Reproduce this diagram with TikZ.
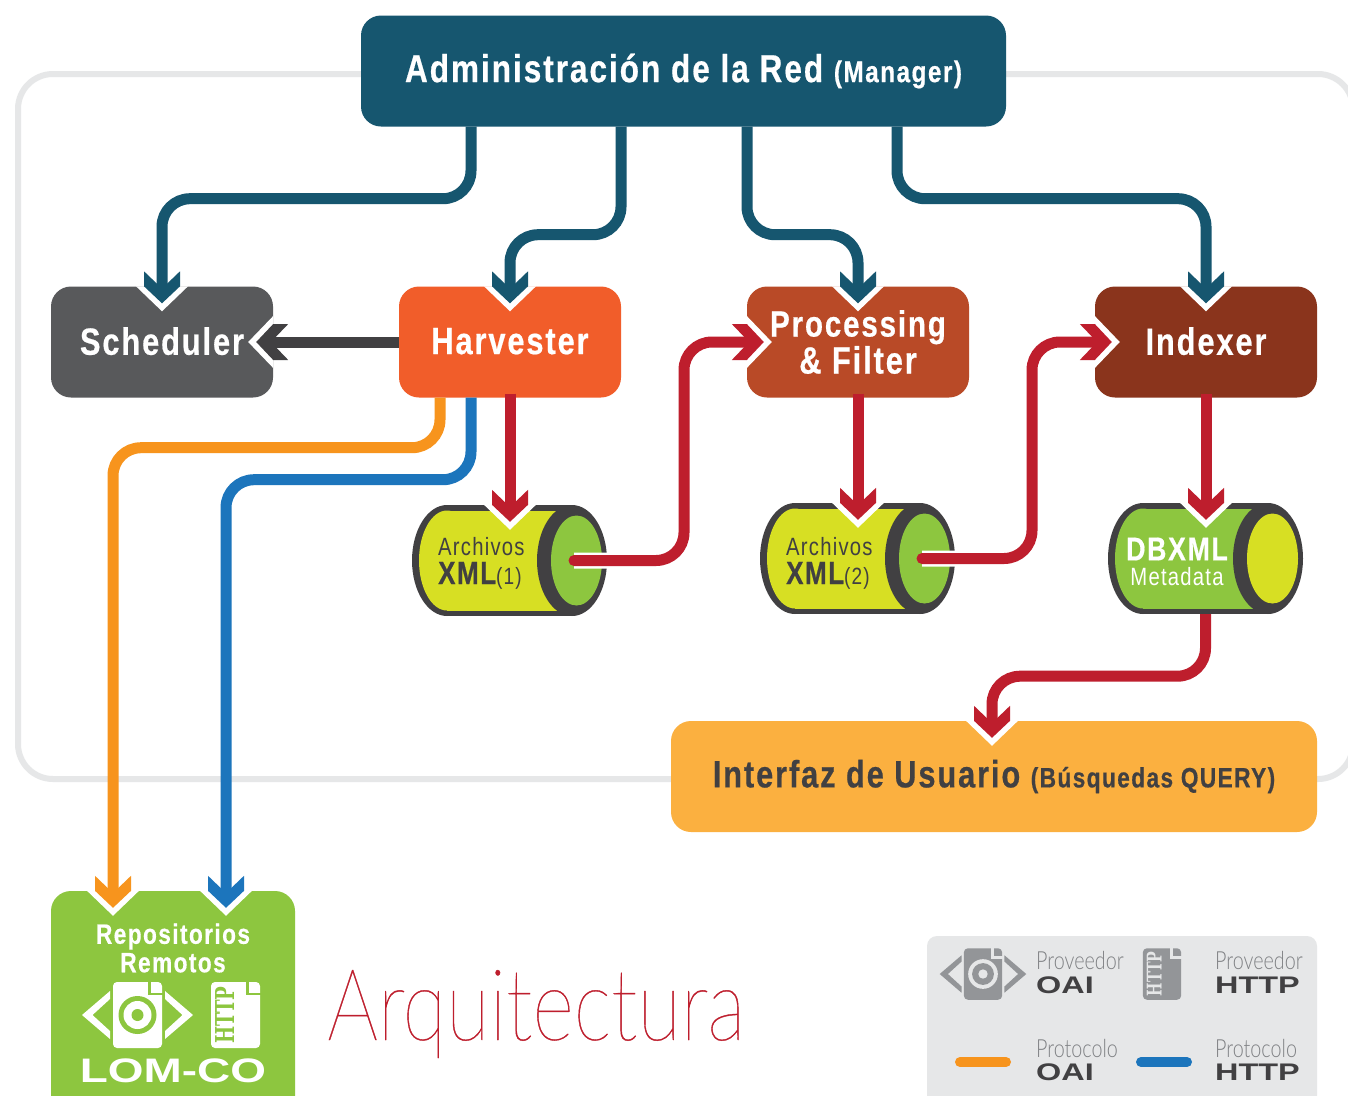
\documentclass[tikz,border=0pt]{standalone}
\usepackage{fontspec}
\usetikzlibrary{calc}
\newfontfamily\condfont[FakeStretch=0.81,LetterSpace=5,BoldFeatures={FakeBold=0.5}]{Liberation Sans}
\newfontfamily\widefont[FakeStretch=1.35]{Liberation Sans}
\newfontfamily\thinfont[FakeStretch=0.79]{Lato Light}
\newfontfamily\titlefont[FakeStretch=0.8,FakeBold=0.4]{Lato Thin}
\newfontfamily\slabfont[FakeStretch=0.7]{DejaVu Serif}
\definecolor{adminblue}{HTML}{16566F}
\definecolor{schedgray}{HTML}{58595B}
\definecolor{harvorange}{HTML}{F15D2A}
\definecolor{procbrown}{HTML}{B94A27}
\definecolor{idxbrown}{HTML}{8A341C}
\definecolor{linkred}{HTML}{BE1E2D}
\definecolor{linkblue}{HTML}{1C75BC}
\definecolor{linkorange}{HTML}{F7941D}
\definecolor{darkgray}{HTML}{414042}
\definecolor{cylyellow}{HTML}{D7DF23}
\definecolor{cylgreen}{HTML}{8DC63F}
\definecolor{uiorange}{HTML}{FBB040}
\definecolor{legendbg}{HTML}{E6E7E8}
\definecolor{icongray}{HTML}{939598}
\definecolor{textgray}{HTML}{808285}
\tikzset{
  box/.style={rounded corners=20pt,text=white,align=center,inner sep=0pt,
    font={\condfont\bfseries\fontsize{38}{36}\selectfont}},
  smallbox/.style={box,minimum width=222pt,minimum height=111pt},
  widebox/.style={box,minimum width=646pt,minimum height=111pt},
  link/.style={line width=11pt,rounded corners=28pt},
  redlink/.style={link,linkred},
  redout/.style={redlink,line cap=round,preaction={draw=white,line width=16pt}},
  chev/.pic={
    \fill[white] (-26,-17) -- (0,8) -- (26,-17) -- cycle;
    \fill[#1] (0,0) -- (-18,-17) -- (-18,-32) -- (-5.5,-20) -- (5.5,-20) -- (18,-32) -- (18,-17) -- cycle;
  },
  legendhead/.style={font={\thinfont\fontsize{25}{25}\selectfont},text=textgray,anchor=base west,inner sep=0pt},
  legendname/.style={font={\widefont\bfseries\fontsize{24}{24}\selectfont},text=darkgray,anchor=base west,inner sep=0pt},
  cyltext/.style={font={\condfont\fontsize{25}{25}\selectfont},text=darkgray,anchor=base west,inner sep=0pt},
}
\newcommand{\cylinder}[5]{
  \begin{scope}[shift={(#2,#3)}]
    \fill[darkgray] (-62.5,0) ellipse (35 and 55.5);
    \fill[darkgray] (-62.5,-55.5) rectangle (62.5,55.5);
    \fill[#4] (-62.5,0) ellipse (28 and 50);
    \fill[#4] (-62.5,-50) rectangle (50,50);
    \fill[darkgray] (62.5,0) ellipse (35 and 55.5);
    \fill[#5] (67,0) ellipse (25.5 and 45);
    \node[minimum width=195pt,minimum height=111pt,inner sep=0pt] (#1) at (0,0) {};
    \coordinate (#1out) at (64.5,0);
  \end{scope}
}
\newcommand{\docshape}[2]{
  \fill[#1,rounded corners=4pt] (-24.5,-33) rectangle (24.5,33);
  \draw[#2,line width=2.5pt] (12,-34) -- (12,-21) -- (25,-21);
}
\newcommand{\eyeicon}[5]{
  \begin{scope}[shift={(#2,#3)},scale=#4]
    \fill[#1] (-27.5,-24) -- (-55.5,0) -- (-27.5,24) -- (-27.5,16) -- (-45,0) -- (-27.5,-16) -- cycle;
    \fill[#1] (27.5,-24) -- (55.5,0) -- (27.5,24) -- (27.5,16) -- (45,0) -- (27.5,-16) -- cycle;
    \docshape{#1}{#5}
    \fill[#5] (0,0) circle (19);
    \fill[#1] (0,0) circle (14);
    \fill[#5] (0,0) circle (6);
  \end{scope}
}
\newcommand{\httpicon}[5]{
  \begin{scope}[shift={(#2,#3)},scale=#4]
    \docshape{#1}{#5}
    \node[rotate=90,transform shape,text=#5,inner sep=0pt,font={\slabfont\bfseries\fontsize{26}{26}\selectfont}] at (-10,0) {HTTP};
  \end{scope}
}
\begin{document}
\begin{tikzpicture}[x=1pt,y=-1pt]
  \useasboundingbox (0,0) rectangle (1348,1095);
  \fill[white] (0,0) rectangle (1348,1095);
  \draw[legendbg,line width=6pt,rounded corners=35pt] (18,74) rectangle (1353,779);

  \node[box,fill=adminblue,minimum width=645pt,minimum height=111pt] (admin) at (683.5,71)
    {\fontsize{39}{36}\selectfont Administración de la Red {\fontsize{30}{30}\selectfont(Manager)}};
  \node[smallbox,fill=schedgray] (sched) at (162,342) {\raisebox{2pt}{Scheduler}};
  \node[smallbox,fill=harvorange] (harv) at (510,342) {\raisebox{2pt}{Harvester}};
  \node[smallbox,fill=procbrown] (proc) at (858,342) {\fontsize{36.5}{36}\selectfont Processing\\[1pt]\& Filter};
  \node[smallbox,fill=idxbrown] (idx) at (1206,342) {\raisebox{2pt}{Indexer}};
  \node[widebox,fill=uiorange,text=darkgray] (ui) at (994,776.5)
    {Interfaz de Usuario {\fontsize{28}{28}\selectfont(Búsquedas QUERY)}};
  \node[box,fill=cylgreen,minimum width=244pt,minimum height=240pt] (repos) at (173,1011) {};

  \cylinder{xml1}{509.5}{560.5}{cylyellow}{cylgreen}
  \cylinder{xml2}{857.5}{558.5}{cylyellow}{cylgreen}
  \cylinder{dbxml}{1205.5}{558.5}{cylgreen}{cylyellow}

  \draw[link,adminblue] ([xshift=-212.5pt]admin.south) -- ++(0,72) -| ([yshift=-5pt]sched.north);
  \draw[link,adminblue] ([xshift=-62.5pt]admin.south) -- ++(0,108) -| ([yshift=-5pt]harv.north);
  \draw[link,adminblue] ([xshift=63.5pt]admin.south) -- ++(0,108) -| ([yshift=-5pt]proc.north);
  \draw[link,adminblue] ([xshift=213.5pt]admin.south) -- ++(0,72) -| ([yshift=-5pt]idx.north);
  \draw[line width=11pt,darkgray] (harv.west) -- ([xshift=-5pt]sched.east);
  \draw[link,linkorange] ([xshift=-70pt]harv.south) -- ++(0,50) -| ([xshift=-60pt,yshift=-5pt]repos.north);
  \draw[link,linkblue] ([xshift=-39pt]harv.south) -- ++(0,82) -| ([xshift=53pt,yshift=-5pt]repos.north);
  \draw[redlink] ([yshift=4pt]harv.south) -- ([xshift=0.5pt,yshift=-5pt]xml1.north);
  \draw[redlink] ([yshift=4pt]proc.south) -- ([xshift=0.5pt,yshift=-5pt]xml2.north);
  \draw[redlink] ([yshift=4pt]idx.south) -- ([xshift=0.5pt,yshift=-5pt]dbxml.north);
  \draw[redout] (xml1out) -- ++(110,0) |- ([xshift=5pt]proc.west);
  \draw[redout] (xml2out) -- ++(110,0) |- ([xshift=5pt]idx.west);
  \draw[redlink] (dbxml.south) -- ++(0,62) -| ([xshift=-2pt,yshift=-5pt]ui.north);

  \foreach \n in {sched,harv,proc,idx}
    \pic at ([yshift=-17pt]\n.north) {chev=adminblue};
  \pic[rotate=-90] at ([xshift=-17pt]sched.east) {chev=darkgray};
  \pic[rotate=90] at ([xshift=17pt]proc.west) {chev=linkred};
  \pic[rotate=90] at ([xshift=17pt]idx.west) {chev=linkred};
  \foreach \n in {xml1,xml2,dbxml}
    \pic at ([xshift=0.5pt,yshift=-17pt]\n.north) {chev=linkred};
  \pic at ([xshift=-2pt,yshift=-17pt]ui.north) {chev=linkred};
  \pic at ([xshift=-60pt,yshift=-17pt]repos.north) {chev=linkorange};
  \pic at ([xshift=53pt,yshift=-17pt]repos.north) {chev=linkblue};

  \node[cyltext] (arch1) at (438,555) {Archivos};
  \node[cyltext] (xmlname1) at (438,584) {{\bfseries\fontsize{32}{32}\selectfont XML}{\fontsize{23.5}{23}\selectfont(1)}};
  \node[cyltext] (arch2) at (786,555) {Archivos};
  \node[cyltext] (xmlname2) at (786,584) {{\bfseries\fontsize{32}{32}\selectfont XML}{\fontsize{23.5}{23}\selectfont(2)}};
  \node[text=white,inner sep=0pt,font={\condfont\bfseries\fontsize{33}{33}\selectfont}] (dbname) at (1177,549) {DBXML};
  \node[text=white,inner sep=0pt,font={\condfont\fontsize{25}{25}\selectfont}] (metaname) at (1177,577) {Metadata};

  \node[text=white,align=center,inner sep=0pt,font={\condfont\bfseries\fontsize{28}{28.5}\selectfont}] (repostxt) at (173,948) {Repositorios\\Remotos};
  \eyeicon{white}{137.5}{1015}{1}{cylgreen}
  \httpicon{white}{235.5}{1015}{1}{cylgreen}
  \node[text=white,inner sep=0pt,font={\widefont\bfseries\fontsize{34}{34}\selectfont}] (lomco) at (173,1071) {LOM-CO};

  \node[anchor=base west,inner sep=0pt,text=linkred,font={\titlefont\fontsize{100}{100}\selectfont}] (title) at (327,1040) {Arquitectura};

  \fill[legendbg,rounded corners=10pt] (927,936) rectangle (1317,1120);
  \eyeicon{icongray}{983}{974}{0.78}{legendbg}
  \httpicon{icongray}{1162}{974}{0.78}{legendbg}
  \node[legendhead] (prov1) at (1036,969) {Proveedor};
  \node[legendname] (oai1) at (1036,993) {OAI};
  \node[legendhead] (prov2) at (1215,969) {Proveedor};
  \node[legendname] (http1) at (1215,993) {HTTP};
  \node[legendhead] (prot1) at (1036,1057) {Protocolo};
  \node[legendname] (oai2) at (1036,1080) {OAI};
  \node[legendhead] (prot2) at (1215,1057) {Protocolo};
  \node[legendname] (http2) at (1215,1080) {HTTP};
  \coordinate (oaia) at (960,1062);
  \coordinate (oaib) at (1006,1062);
  \coordinate (httpa) at (1141,1062);
  \coordinate (httpb) at (1187,1062);
  \draw[line width=10pt,line cap=round,linkorange] (oaia) -- (oaib);
  \draw[line width=10pt,line cap=round,linkblue] (httpa) -- (httpb);
\end{tikzpicture}
\end{document}
